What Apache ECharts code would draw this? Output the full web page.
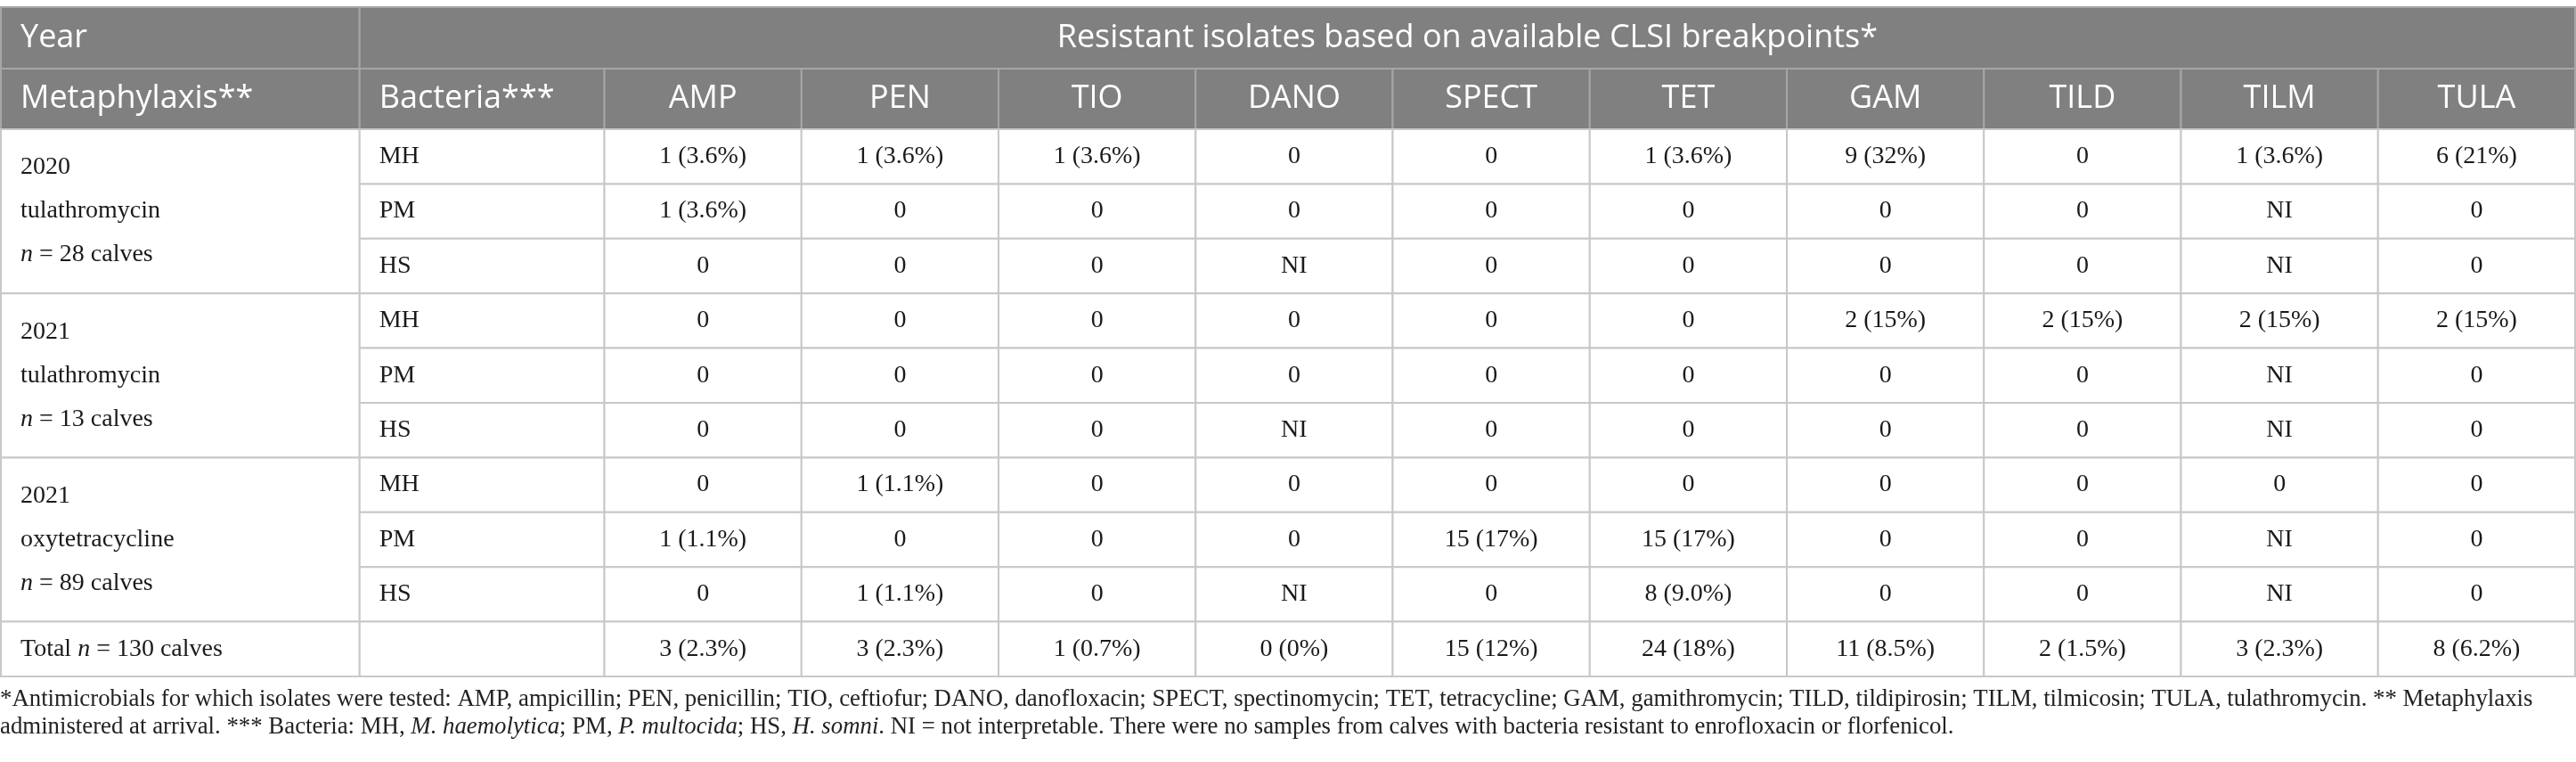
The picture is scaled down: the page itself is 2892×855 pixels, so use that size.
<!DOCTYPE html>
<html>
<head>
<meta charset="utf-8">
<script src="https://cdn.jsdelivr.net/npm/echarts@6/dist/echarts.min.js"></script>
<style>
html,body{margin:0;padding:0;background:#fff;}
#main{width:2892px;height:855px;}
</style>
</head>
<body>
<div id="main"></div>
<script>
// table content
var antibiotics = ['AMP','PEN','TIO','DANO','SPECT','TET','GAM','TILD','TILM','TULA'];
var groupYears = ['2020','2021','2021'];
var groupDrugs = ['tulathromycin','tulathromycin','oxytetracycline'];
var groupCalves = [28, 13, 89];
var bacteria = ['MH','PM','HS'];
// resistant isolates, rows = group x bacteria, cols = antibiotics
var resistant = [
  ['1 (3.6%)','1 (3.6%)','1 (3.6%)','0','0','1 (3.6%)','9 (32%)','0','1 (3.6%)','6 (21%)'],
  ['1 (3.6%)','0','0','0','0','0','0','0','NI','0'],
  ['0','0','0','NI','0','0','0','0','NI','0'],
  ['0','0','0','0','0','0','2 (15%)','2 (15%)','2 (15%)','2 (15%)'],
  ['0','0','0','0','0','0','0','0','NI','0'],
  ['0','0','0','NI','0','0','0','0','NI','0'],
  ['0','1 (1.1%)','0','0','0','0','0','0','0','0'],
  ['1 (1.1%)','0','0','0','15 (17%)','15 (17%)','0','0','NI','0'],
  ['0','1 (1.1%)','0','NI','0','8 (9.0%)','0','0','NI','0']
];
var totalCalves = 130;
var totals = ['3 (2.3%)','3 (2.3%)','1 (0.7%)','0 (0%)','15 (12%)','24 (18%)','11 (8.5%)','2 (1.5%)','3 (2.3%)','8 (6.2%)'];

// layout
var colWidths = [403, 275].concat(antibiotics.map(function(){ return 221.4; }));
var rowHeights = [69, 68].concat(new Array(10).fill(61.4));
var colEdges = [0], rowEdges = [0];
colWidths.forEach(function(w,i){ colEdges.push(colEdges[i] + w); });
rowHeights.forEach(function(h,i){ rowEdges.push(rowEdges[i] + h); });

var TH = ' ';
var cells = [];
function addCell(c0, c1, r0, r1, text, kind, align) {
  cells.push({c0:c0, c1:c1, r0:r0, r1:r1, text:text, kind:kind, align:align});
}
// header
addCell(0, 1, 0, 1, 'Year', 'head', 'left');
addCell(1, 12, 0, 1, 'Resistant isolates based on available CLSI breakpoints*', 'head', 'center');
addCell(0, 1, 1, 2, 'Metaphylaxis**', 'head', 'left');
addCell(1, 2, 1, 2, 'Bacteria***', 'head', 'left');
antibiotics.forEach(function(a, i){ addCell(2 + i, 3 + i, 1, 2, a, 'head', 'center'); });
// body
groupYears.forEach(function(y, g){
  var r = 2 + g * 3;
  addCell(0, 1, r, r + 3, y + '\n' + groupDrugs[g] + '\n{i|n}' + TH + '=' + TH + groupCalves[g] + ' calves', 'body', 'left');
  bacteria.forEach(function(b, k){
    addCell(1, 2, r + k, r + k + 1, b, 'body', 'left');
    resistant[g * 3 + k].forEach(function(v, i){
      addCell(2 + i, 3 + i, r + k, r + k + 1, v, 'body', 'center');
    });
  });
});
addCell(0, 1, 11, 12, 'Total {i|n}' + TH + '=' + TH + totalCalves + ' calves', 'body', 'left');
addCell(1, 2, 11, 12, '', 'body', 'left');
totals.forEach(function(v, i){ addCell(2 + i, 3 + i, 11, 12, v, 'body', 'center'); });

var serif = '"Liberation Serif", "DejaVu Serif", serif';
var sans = '"Open Sans", "Noto Sans", sans-serif';
var bodySize = 28, headSize = 36;

function renderCell(params, api) {
  var cell = cells[params.dataIndex];
  var p0 = api.coord([api.value(0), api.value(1)]);
  var p1 = api.coord([api.value(2), api.value(3)]);
  var x = Math.min(p0[0], p1[0]), y = Math.min(p0[1], p1[1]);
  var w = Math.abs(p1[0] - p0[0]), h = Math.abs(p1[1] - p0[1]);
  var head = cell.kind === 'head';
  var children = [{
    type: 'rect',
    shape: {x: x, y: y, width: w, height: h},
    style: {fill: head ? '#808080' : '#ffffff', stroke: head ? '#a6a6a6' : '#c8c8c8', lineWidth: 2}
  }];
  if (cell.text) {
    children.push({
      type: 'text',
      x: cell.align === 'left' ? x + 22 : x + w / 2,
      y: y + h / 2,
      style: {
        text: cell.text,
        align: cell.align,
        verticalAlign: 'middle',
        fontFamily: head ? sans : serif,
        fontSize: head ? headSize : bodySize,
        lineHeight: head ? headSize : 49,
        fill: head ? '#ffffff' : '#1a1a1a',
        rich: {
          i: {fontFamily: serif, fontSize: bodySize, fontStyle: 'italic', fill: '#1a1a1a', lineHeight: 49}
        }
      }
    });
  }
  return {type: 'group', children: children};
}

var footSize = 26.8;
var footRich = {i: {fontFamily: serif, fontSize: footSize, fontStyle: 'italic', fill: '#222'}};
var footLine1 = '*Antimicrobials for which isolates were tested: AMP, ampicillin; PEN, penicillin; TIO, ceftiofur; DANO, danofloxacin; SPECT, spectinomycin; TET, tetracycline; GAM, gamithromycin; TILD, tildipirosin; TILM, tilmicosin; TULA, tulathromycin. ** Metaphylaxis';
var footLine2 = 'administered at arrival. *** Bacteria: MH, {i|M. haemolytica}; PM, {i|P. multocida}; HS, {i|H. somni}. NI' + TH + '=' + TH + 'not interpretable. There were no samples from calves with bacteria resistant to enrofloxacin or florfenicol.';

var chart = echarts.init(document.getElementById('main'));
chart.setOption({
  animation: false,
  backgroundColor: '#ffffff',
  grid: {left: 1, right: 1, top: 8, height: rowEdges[rowEdges.length - 1]},
  xAxis: {type: 'value', min: 0, max: colEdges[colEdges.length - 1], show: false},
  yAxis: {type: 'value', min: 0, max: rowEdges[rowEdges.length - 1], inverse: true, show: false},
  series: [{
    type: 'custom',
    renderItem: renderCell,
    data: cells.map(function(c){ return [colEdges[c.c0], rowEdges[c.r0], colEdges[c.c1], rowEdges[c.r1]]; })
  }],
  graphic: [
    {type: 'text', left: 0, top: 771, style: {text: footLine1, fontFamily: serif, fontSize: footSize, fill: '#222', rich: footRich}},
    {type: 'text', left: 0, top: 802, style: {text: footLine2, fontFamily: serif, fontSize: footSize, fill: '#222', rich: footRich}}
  ]
});
</script>
</body>
</html>
